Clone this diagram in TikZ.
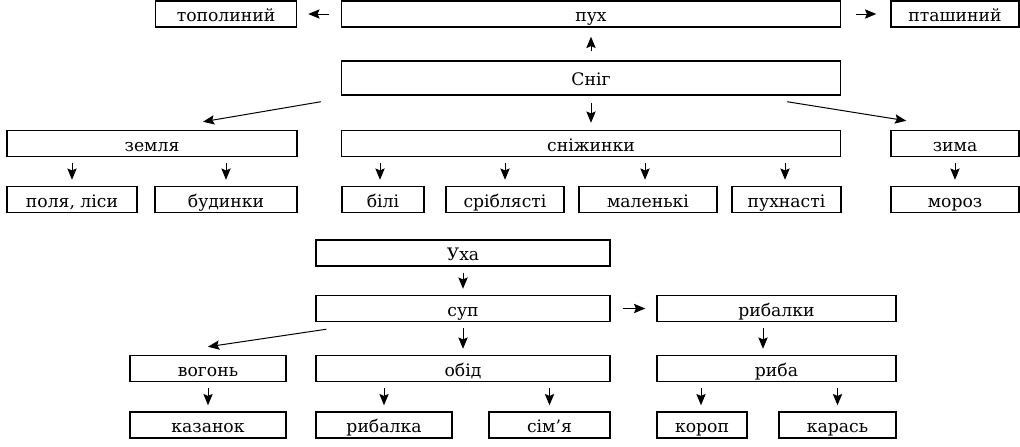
\documentclass[tikz,border=0pt]{standalone}
\usepackage{fontspec}
\setmainfont{DejaVu Serif}
\usetikzlibrary{arrows.meta,calc}

\tikzset{
  box/.style={draw, line width=1.1pt, inner sep=0pt, minimum width=#1*0.75pt, minimum height=19.5pt,
    text height=13pt, text depth=1.5pt, font=\fontsize{12.9}{14}\selectfont},
  arr/.style={-{Stealth[length=8.5pt,width=7pt,inset=1.5pt]}, line width=0.75pt},
  varr/.style={arr, shorten <=4.5pt, shorten >=4.5pt},
}

\begin{document}
\begin{tikzpicture}[x=0.75pt,y=0.75pt,yscale=-1,xscale=1]
    \useasboundingbox (0,0) rectangle (1020,446);

    %Boxes: Snig
    \node[box=499] (pukh) at (591,14) {пух};
    \node[box=141] (topol) at (226,14) {тополиний};
    \node[box=128] (ptash) at (955,14) {пташиний};
    \node[box=499, minimum height=25.5pt] (snig) at (591,78) {Сніг};
    \node[box=290] (zemlia) at (152,143.5) {земля};
    \node[box=499] (snizh) at (591,143.5) {сніжинки};
    \node[box=128] (zyma) at (955,143.5) {зима};
    \node[box=130] (polia) at (72,199.5) {поля, ліси};
    \node[box=142] (budynky) at (226,199.5) {будинки};
    \node[box=82] (bili) at (383,199.5) {білі};
    \node[box=118] (sribl) at (505,199.5) {сріблясті};
    \node[box=138] (malenki) at (648,199.5) {маленькі};
    \node[box=109] (pukhn) at (786.5,199.5) {пухнасті};
    \node[box=128] (moroz) at (955,199.5) {мороз};

    %Boxes: Ukha
    \node[box=294] (ukha) at (463,253) {Уха};
    \node[box=294] (sup) at (463,308.5) {суп};
    \node[box=239] (rybalky) at (776.5,308.5) {рибалки};
    \node[box=156] (vohon) at (208,368.5) {вогонь};
    \node[box=294] (obid) at (463,368.5) {обід};
    \node[box=239] (ryba) at (776.5,368.5) {риба};
    \node[box=156] (kazanok) at (208,425) {казанок};
    \node[box=136] (rybalka) at (384,425) {рибалка};
    \node[box=121] (simia) at (549.5,425) {сім’я};
    \node[box=90] (korop) at (702,425) {короп};
    \node[box=117] (karas) at (837.5,425) {карась};

    %Free ends of slanted arrows
    \coordinate (snigL) at ($(snig.south west)+(-20,6)$);
    \coordinate (zemliaT) at ($(zemlia.north)+(51,-8)$);
    \coordinate (snigR) at ($(snig.south east)+(-54,6)$);
    \coordinate (zymaT) at ($(zyma.north west)+(16,-9)$);
    \coordinate (supL) at ($(sup.south west)+(11,7)$);
    \coordinate (vohonT) at ($(vohon.north)+(0,-8)$);

    %Arrows: Snig
    \draw[arr, shorten <=9pt, shorten >=8.25pt] (pukh.west) -- (topol.east);
    \draw[arr, shorten <=11.25pt, shorten >=10.5pt] (pukh.east) -- (ptash.west);
    \draw[arr, shorten <=6.75pt, shorten >=6.75pt] (snig.north) -- (pukh.south);
    \draw[arr, shorten <=5.25pt, shorten >=5.25pt] (snig.south) -- (snizh.north);
    \draw[arr] (snigL) -- (zemliaT);
    \draw[arr] (snigR) -- (zymaT);
    \draw[varr] (zemlia.south -| polia.north) -- (polia.north);
    \draw[varr] (zemlia.south -| budynky.north) -- (budynky.north);
    \draw[varr] ($(snizh.south -| bili.north)+(-3,0)$) -- ($(bili.north)+(-3,0)$);
    \draw[varr] (snizh.south -| sribl.north) -- (sribl.north);
    \draw[varr] ($(snizh.south -| malenki.north)+(-3,0)$) -- ($(malenki.north)+(-3,0)$);
    \draw[varr] ($(snizh.south -| pukhn.north)+(-1.5,0)$) -- ($(pukhn.north)+(-1.5,0)$);
    \draw[varr] (zyma.south) -- (moroz.north);

    %Arrows: Ukha
    \draw[varr] (ukha.south) -- (sup.north);
    \draw[varr] (sup.south) -- (obid.north);
    \draw[arr, shorten <=9pt, shorten >=8.25pt] (sup.east) -- (rybalky.west);
    \draw[arr] (supL) -- (vohonT);
    \draw[varr] ($(rybalky.south)+(-13.5,0)$) -- ($(ryba.north)+(-13.5,0)$);
    \draw[varr] (vohon.south) -- (kazanok.north);
    \draw[varr] (obid.south -| rybalka.north) -- (rybalka.north);
    \draw[varr] (obid.south -| simia.north) -- (simia.north);
    \draw[varr] ($(ryba.south -| korop.north)+(-1,0)$) -- ($(korop.north)+(-1,0)$);
    \draw[varr] (ryba.south -| karas.north) -- (karas.north);

\end{tikzpicture}
\end{document}
